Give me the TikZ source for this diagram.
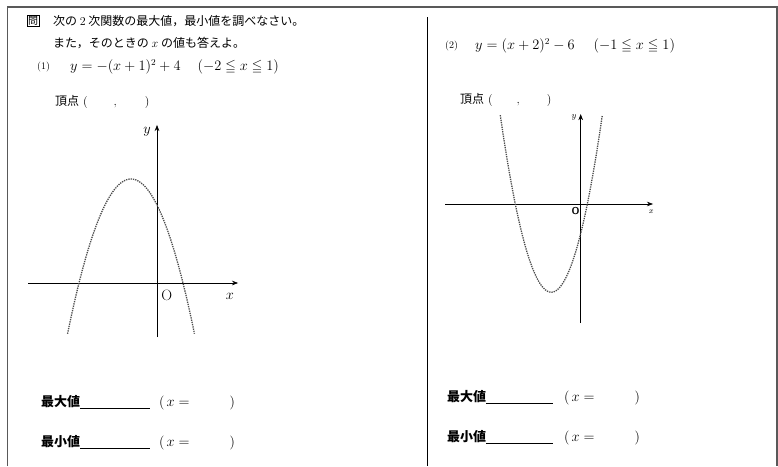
\documentclass[tikz,border=0pt]{standalone}
\usepackage{amsmath,amssymb}
\usepackage{fontspec}
\newfontfamily\jp{Noto Sans CJK JP}
\usepackage{tikz}
\usetikzlibrary{arrows.meta,positioning}

\begin{document}
\begin{tikzpicture}[x=1pt,y=-1pt,>=Stealth,
 jtx/.style={anchor=west,inner sep=0pt,font=\jp\fontsize{12}{14}\selectfont},
 eqn/.style={anchor=west,inner sep=0pt,font=\fontsize{13.5}{16}\selectfont},
 num/.style={anchor=west,inner sep=0pt,font=\fontsize{10}{12}\selectfont},
 ans/.style={anchor=west,inner sep=0pt,font=\jp\bfseries\fontsize{13}{15}\selectfont},
 frm/.style={draw=black!65,line width=1.2pt},
 axs/.style={->,line width=0.7pt},
 crv/.style={densely dotted,line width=1.3pt,black!70,smooth}]
\useasboundingbox (0,0) rectangle (778,466);
\draw[frm] (7.5,466) -- (7.5,7) -- (777,7) -- (777,466);
\draw[line width=1pt] (427,17) -- (427,466);
\node[draw,inner sep=1pt,anchor=west,font=\jp\fontsize{10}{12}\selectfont] (mon) at (27,21) {問};
\node[jtx] (q1) at (53,21) {次の $2$ 次関数の最大値，最小値を調べなさい。};
\node[jtx] (q2) at (53,43) {また，そのときの $x$ の値も答えよ。};
\node[num] (n1) at (37,67) {(1)};
\node[eqn] (f1) at (70,67) {$y=-(x+1)^2+4\hspace{17pt}(-2\leqq x\leqq 1)$};
\node[jtx] (v1) at (55,102) {頂点{\rmfamily\ (\hspace{26pt},\hspace{28pt})}};
\begin{scope}[shift={(157,283)},x=26pt,y=26pt]
\draw[axs] (-4.96,0) -- (3.12,0);
\draw[axs] (0,-2.08) -- (0,6.08);
\draw[crv] plot[domain=-3.44:1.44,samples=80] (\x,{-(\x+1)^2+4});
\node[font=\fontsize{15}{17}\selectfont] (ly) at (-0.38,5.8) {$y$};
\node[font=\fontsize{15}{17}\selectfont] (lo) at (0.38,-0.48) {O};
\node[font=\fontsize{15}{17}\selectfont] (lx) at (2.8,-0.5) {$x$};
\end{scope}
\node[num] (n2) at (445,46) {(2)};
\node[eqn] (f2) at (475,46) {$y=(x+2)^2-6\hspace{19pt}(-1\leqq x\leqq 1)$};
\node[jtx] (v2) at (460,100) {頂点{\rmfamily\ (\hspace{24pt},\hspace{27pt})}};
\begin{scope}[shift={(580.7,204)},x=14.7pt,y=14.7pt]
\draw[axs] (-9.23,0) -- (4.92,0);
\draw[axs] (0,-8.1) -- (0,6.12);
\draw[crv] plot[domain=-5.47:1.47,samples=80] (\x,{(\x+2)^2-6});
\node[font=\bfseries\fontsize{9}{11}\selectfont] (ry) at (-0.45,5.9) {$y$};
\node[font=\sffamily\bfseries\fontsize{10}{12}\selectfont] (ro) at (-0.35,-0.5) {O};
\node[font=\fontsize{8}{10}\selectfont] (rx) at (4.8,-0.55) {$x$};
\end{scope}
\node[ans] (mx1) at (41,403) {最大値\rule[-2pt]{70pt}{0.6pt}{\normalfont\fontsize{14}{16}\selectfont\hspace{9pt}(\hspace{2pt}$x=$\hspace{40pt})}};
\node[ans] (mn1) at (41,443) {最小値\rule[-2pt]{70pt}{0.6pt}{\normalfont\fontsize{14}{16}\selectfont\hspace{9pt}(\hspace{2pt}$x=$\hspace{40pt})}};
\node[ans] (mx2) at (447,398) {最大値\rule[-2pt]{67pt}{0.6pt}{\normalfont\fontsize{14}{16}\selectfont\hspace{11pt}(\hspace{2pt}$x=$\hspace{40pt})}};
\node[ans] (mn2) at (447,438) {最小値\rule[-2pt]{67pt}{0.6pt}{\normalfont\fontsize{14}{16}\selectfont\hspace{11pt}(\hspace{2pt}$x=$\hspace{40pt})}};
\end{tikzpicture}
\end{document}
